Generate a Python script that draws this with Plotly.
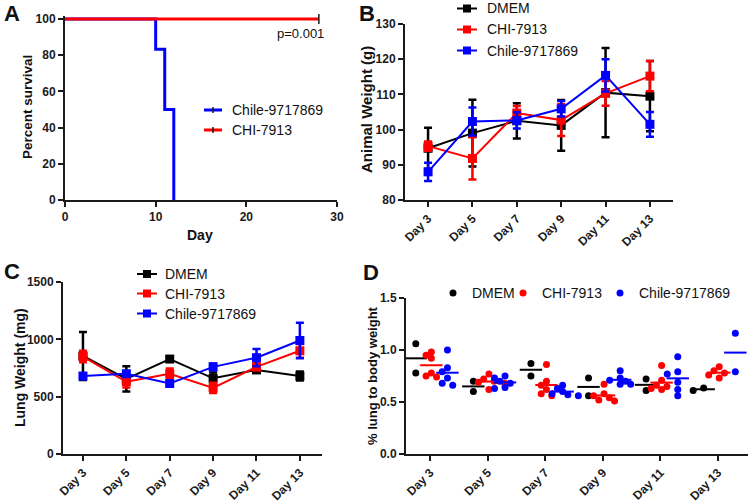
import plotly.graph_objects as go
import numpy as np

W, H = 750, 502

BLACK = "#000000"
RED = "#ff0000"
BLUE = "#0000ff"
AX = "#1a1a1a"
TXT = "#111111"
FONT = "Liberation Sans, Arial, sans-serif"

days = ["Day 3", "Day 5", "Day 7", "Day 9", "Day 11", "Day 13"]
groups = ["DMEM", "CHI-7913", "Chile-9717869"]

# ---- Panel A: survival ----
surv_chile_days = [0, 10, 11, 12]
surv_chile_pct = [100, 83.3, 50, 0]
surv_chi_days = [0, 28]
surv_chi_pct = [100, 100]
surv_chi_censor_day = [28]
surv_chi_censor_pct = [100]
a_xticks = [0, 10, 20, 30]
a_yticks = [0, 20, 40, 60, 80, 100]

# ---- Panel B: animal weight (g), mean and SD ----
bw_dmem = [94.7, 99.0, 102.5, 101.2, 110.5, 109.5]
bw_dmem_err = [5.8, 9.5, 5.0, 7.2, 12.7, 10.0]
bw_chi = [95.3, 91.8, 104.7, 102.7, 110.3, 115.2]
bw_chi_err = [1.3, 6.0, 2.0, 4.5, 3.5, 4.3]
bw_chile = [88.0, 102.3, 102.6, 105.9, 115.4, 101.5]
bw_chile_err = [2.6, 4.0, 2.3, 2.2, 4.6, 3.5]
b_yticks = [80, 90, 100, 110, 120, 130]

# ---- Panel C: lung weight (mg), mean and SD ----
lw_dmem = [855, 655, 828, 660, 733, 680]
lw_dmem_err = [210, 110, 20, 50, 25, 40]
lw_chi = [850, 630, 700, 577, 760, 900]
lw_chi_err = [50, 50, 45, 45, 30, 60]
lw_chile = [680, 700, 615, 760, 840, 990]
lw_chile_err = [25, 20, 15, 30, 75, 155]
c_yticks = [0, 500, 1000, 1500]

# ---- Panel D: % lung to body weight, individual animals ----
pct_dmem = [[1.06, 0.78], [0.70, 0.60], [0.87, 0.75], [0.73, 0.56], [0.72, 0.61], [0.61, 0.635]]
pct_chi = [[0.98, 0.95, 0.92, 0.78, 0.74, 0.75],
           [0.77, 0.72, 0.70, 0.68, 0.62, 0.69],
           [0.86, 0.70, 0.66, 0.62, 0.58, 0.56],
           [0.67, 0.58, 0.56, 0.54, 0.52, 0.51],
           [0.85, 0.71, 0.66, 0.65, 0.63, 0.62],
           [0.84, 0.80, 0.78, 0.76, 0.73]]
pct_chile = [[1.00, 0.83, 0.79, 0.73, 0.68, 0.66],
             [0.75, 0.73, 0.70, 0.68, 0.64, 0.63],
             [0.66, 0.63, 0.60, 0.58, 0.57, 0.56],
             [0.80, 0.73, 0.71, 0.70, 0.67, 0.67],
             [0.935, 0.79, 0.77, 0.69, 0.62, 0.56],
             [1.16, 0.79]]
d_yticks = [0.0, 0.5, 1.0, 1.5]
d_group_offset = [-0.25, 0.02, 0.30]


def px2x(px):
    return px / W


def px2y(py):
    return 1 - py / H


def axis_style(**kw):
    d = dict(showline=True, linecolor=AX, linewidth=2, ticks="outside", ticklen=5,
             tickwidth=2, tickcolor=AX, showgrid=False, zeroline=False, automargin=False,
             tickfont=dict(family=FONT, size=12, color=AX, weight="bold"))
    d.update(kw)
    return d


fig = go.Figure()

# ---------------- Panel A ----------------
fig.add_trace(go.Scatter(x=surv_chile_days, y=surv_chile_pct, mode="lines", name="Chile-9717869",
                         line=dict(color=BLUE, width=3, shape="hv"),
                         xaxis="x", yaxis="y", showlegend=False, cliponaxis=False))
fig.add_trace(go.Scatter(x=surv_chi_days, y=surv_chi_pct, mode="lines", name="CHI-7913",
                         line=dict(color=RED, width=3),
                         xaxis="x", yaxis="y", showlegend=False, cliponaxis=False))
fig.add_trace(go.Scatter(x=surv_chi_censor_day, y=surv_chi_censor_pct, mode="markers",
                         marker=dict(symbol="line-ns", size=7, line=dict(color=AX, width=1.5)),
                         xaxis="x", yaxis="y", showlegend=False, cliponaxis=False))

# ---------------- Panel B ----------------
for name, col, vals, err in [("DMEM", BLACK, bw_dmem, bw_dmem_err),
                             ("CHI-7913", RED, bw_chi, bw_chi_err),
                             ("Chile-9717869", BLUE, bw_chile, bw_chile_err)]:
    fig.add_trace(go.Scatter(x=days, y=vals, mode="lines+markers", name=name, showlegend=False,
                             line=dict(color=col, width=2), marker=dict(symbol="square", size=9, color=col),
                             error_y=dict(type="data", array=err, visible=True, color=col, thickness=2.5, width=4),
                             xaxis="x2", yaxis="y2", cliponaxis=False))

# ---------------- Panel C ----------------
for name, col, vals, err in [("DMEM", BLACK, lw_dmem, lw_dmem_err),
                             ("CHI-7913", RED, lw_chi, lw_chi_err),
                             ("Chile-9717869", BLUE, lw_chile, lw_chile_err)]:
    fig.add_trace(go.Scatter(x=days, y=vals, mode="lines+markers", name=name, showlegend=False,
                             line=dict(color=col, width=2), marker=dict(symbol="square", size=9, color=col),
                             error_y=dict(type="data", array=err, visible=True, color=col, thickness=2.5, width=4),
                             xaxis="x3", yaxis="y3", cliponaxis=False))

# ---------------- Panel D ----------------
d_x0, d_x1 = 406, 748
d_range = [-0.42, 5.52]
px_per_x = (d_x1 - d_x0) / (d_range[1] - d_range[0])
px_per_y = (454 - 298) / 1.5
dot_d = 7.0


def swarm(center, vals):
    order = np.argsort(vals)[::-1]
    placed = []
    xs = [0.0] * len(vals)
    for i in order:
        v = vals[i]
        off = 0.0
        for k in [0, -1, 1, -2, 2, -3, 3]:
            off = k * dot_d * 0.75
            ok = True
            for (po, pv) in placed:
                dx = off - po
                dy = (v - pv) * px_per_y
                if dx * dx + dy * dy < (dot_d * 0.85) ** 2:
                    ok = False
                    break
            if ok:
                break
        placed.append((off, v))
        xs[i] = center + off / px_per_x
    return xs


for gi, (name, col, data) in enumerate([("DMEM", BLACK, pct_dmem), ("CHI-7913", RED, pct_chi),
                                        ("Chile-9717869", BLUE, pct_chile)]):
    xs, ys, mx, my = [], [], [], []
    for di, vals in enumerate(data):
        c = di + d_group_offset[gi]
        xs += swarm(c, vals)
        ys += vals
        mx.append(c)
        my.append(float(np.mean(vals)))
    fig.add_trace(go.Scatter(x=xs, y=ys, mode="markers", name=name, showlegend=False,
                             marker=dict(symbol="circle", size=dot_d, color=col),
                             xaxis="x4", yaxis="y4", cliponaxis=False))
    fig.add_trace(go.Scatter(x=mx, y=my, mode="markers", showlegend=False,
                             marker=dict(symbol="line-ew", size=16, color=col, line=dict(color=col, width=2)),
                             xaxis="x4", yaxis="y4", cliponaxis=False))

# A y range extended slightly so the 100 % line is not clipped
a_top = 101.5
a_y0_px, a_y100_px = 200, 19
a_top_px = a_y0_px - (a_y0_px - a_y100_px) * a_top / 100

fig.update_layout(
    width=W, height=H, margin=dict(l=0, r=0, t=0, b=0),
    paper_bgcolor="white", plot_bgcolor="white", showlegend=False,
    xaxis=axis_style(domain=[px2x(65), px2x(337)], range=[0, 30], tickvals=a_xticks, anchor="y"),
    yaxis=axis_style(domain=[px2y(a_y0_px), px2y(a_top_px)], range=[0, a_top], tickvals=a_yticks, anchor="x"),
    xaxis2=axis_style(domain=[px2x(405), px2x(673)], range=[-0.52, 5.52], tickangle=-45, anchor="y2"),
    yaxis2=axis_style(domain=[px2y(200), px2y(24)], range=[80, 130], tickvals=b_yticks, anchor="x2"),
    xaxis3=axis_style(domain=[px2x(63), px2x(322)], range=[-0.46, 5.51], tickangle=-45, anchor="y3"),
    yaxis3=axis_style(domain=[px2y(454), px2y(282)], range=[0, 1500], tickvals=c_yticks, anchor="x3"),
    xaxis4=axis_style(domain=[px2x(d_x0), px2x(d_x1)], range=d_range, tickangle=-45, anchor="y4",
                      tickvals=list(range(len(days))), ticktext=days),
    yaxis4=axis_style(domain=[px2y(454), px2y(298)], range=[0, 1.5], tickvals=d_yticks, tickformat=".1f", anchor="x4"),
)

ann = []
shapes = []


def add_text(text, x, y, size, bold=False, angle=0, xanchor="center", yanchor="middle"):
    ann.append(dict(text=text, x=px2x(x), y=px2y(y), xref="paper", yref="paper", showarrow=False,
                    textangle=angle, xanchor=xanchor, yanchor=yanchor,
                    font=dict(family=FONT, size=size, color=TXT, weight="bold" if bold else "normal")))


def legend_line(xc, y, col, text, text_x, half=10, marker=None):
    shapes.append(dict(type="line", xref="paper", yref="paper", x0=px2x(xc - half), x1=px2x(xc + half),
                       y0=px2y(y), y1=px2y(y), line=dict(color=col, width=3 if marker == "tick" else 2)))
    if marker == "square":
        shapes.append(dict(type="rect", xref="paper", yref="paper", x0=px2x(xc - 4), x1=px2x(xc + 4),
                           y0=px2y(y + 4), y1=px2y(y - 4), fillcolor=col, line=dict(width=0)))
    elif marker == "tick":
        shapes.append(dict(type="line", xref="paper", yref="paper", x0=px2x(xc), x1=px2x(xc),
                           y0=px2y(y + 3), y1=px2y(y - 3), line=dict(color=AX, width=1.5)))
    add_text(text, text_x, y, 14, xanchor="left")


def legend_dot(xc, y, col, text, text_x):
    shapes.append(dict(type="circle", xref="paper", yref="paper", x0=px2x(xc - 3.5), x1=px2x(xc + 3.5),
                       y0=px2y(y + 3.5), y1=px2y(y - 3.5), fillcolor=col, line=dict(width=0)))
    add_text(text, text_x, y, 14, xanchor="left")


# legends
legend_line(213, 110, BLUE, "Chile-9717869", 230, half=9, marker="tick")
legend_line(213, 130, RED, "CHI-7913", 230, half=9, marker="tick")
for (nm, col), yy in zip([("DMEM", BLACK), ("CHI-7913", RED), ("Chile-9717869", BLUE)], [8.5, 29.5, 50.5]):
    legend_line(467, yy, col, nm, 485, marker="square")
for (nm, col), yy in zip([("DMEM", BLACK), ("CHI-7913", RED), ("Chile-9717869", BLUE)], [274, 293.5, 313.5]):
    legend_line(147, yy, col, nm, 163, marker="square")
for (nm, col), xx in zip([("DMEM", BLACK), ("CHI-7913", RED), ("Chile-9717869", BLUE)], [453, 523, 620]):
    legend_dot(xx, 293, col, nm, xx + 17)

add_text("A", 2, 14, 22, bold=True, xanchor="left")
add_text("B", 357, 14, 22, bold=True, xanchor="left")
add_text("C", 2, 271, 22, bold=True, xanchor="left")
add_text("D", 361, 272, 22, bold=True, xanchor="left")
add_text("p=0.001", 326, 34, 13, xanchor="right")
add_text("Percent survival", 27, 107, 13.5, bold=True, angle=-90)
add_text("Day", 200, 235, 14, bold=True)
add_text("Animal Weight (g)", 366, 110, 15, bold=True, angle=-90)
add_text("Lung Weight (mg)", 20, 368, 14, bold=True, angle=-90)
add_text("% lung to body weight", 372, 376, 13, bold=True, angle=-90)
fig.update_layout(annotations=ann, shapes=shapes)

fig.write_html("out.html", config={"displayModeBar": False},
               post_script="document.body.style.margin='0';document.body.style.overflow='hidden';")
